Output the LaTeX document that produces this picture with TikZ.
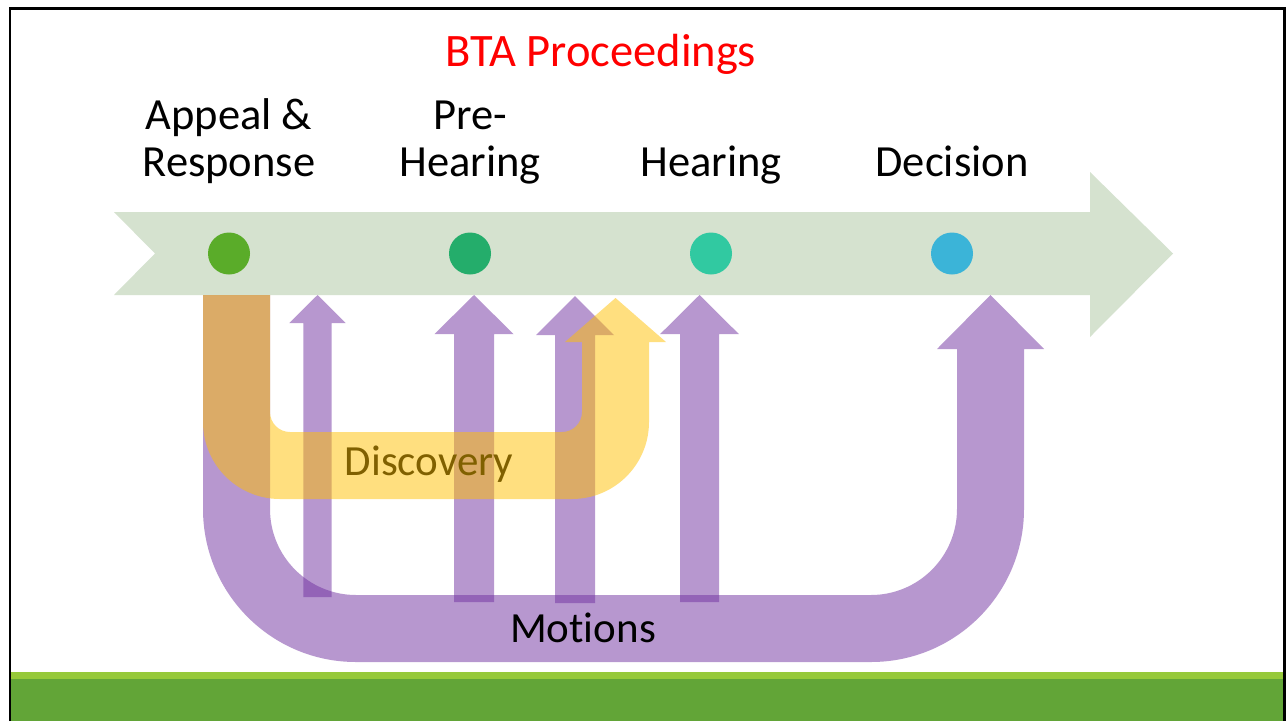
\documentclass[tikz,border=0pt]{standalone}
\usepackage{fontspec}
\setmainfont{Carlito}[Ligatures=NoCommon]
\definecolor{bandgreen}{HTML}{D5E2CF}
\definecolor{dotA}{HTML}{5AAC29}
\definecolor{dotB}{HTML}{24AD6B}
\definecolor{dotC}{HTML}{31C9A1}
\definecolor{dotD}{HTML}{3BB4D8}
\definecolor{motionpurple}{HTML}{7030A0}
\definecolor{discyellow}{HTML}{FFC000}
\definecolor{barlight}{HTML}{96C93A}
\definecolor{bardark}{HTML}{62A537}
% straight up-arrow: centre x, half shaft, half head, tip y, head base y, bottom y
\newcommand\motionarrow[6]{%
  \fill[motion] ({#1-#2},#6) -- ({#1-#2},#5) -- ({#1-#3},#5) -- (#1,#4)
    -- ({#1+#3},#5) -- ({#1+#2},#5) -- ({#1+#2},#6) -- cycle;}
\begin{document}
\begin{tikzpicture}[x=1pt,y=-1pt,
  lbl/.style={font=\fontsize{43}{47}\selectfont, inner sep=0pt, anchor=base, align=center},
  stage/.style={lbl, font=\fontsize{44.5}{47}\selectfont},
  motion/.style={fill=motionpurple, fill opacity=0.5},
  disc/.style={fill=discyellow, fill opacity=0.5},
  dot/.style={circle, minimum size=42pt, inner sep=0pt}]
\useasboundingbox (0,0) rectangle (1288,721);
\fill[white] (0,0) rectangle (1288,721);

% footer bars
\fill[barlight] (10,672) rectangle (1285,679);
\fill[bardark] (10,679) rectangle (1285,721);

% frame
\draw[line width=2.2pt, black] (10,721) -- (10,8.5) -- (1284.5,8.5) -- (1284.5,721);

% title
\node[lbl, font=\fontsize{46.5}{50}\selectfont, text=red] (title) at (601,66) {BTA Proceedings};

% timeline band
\fill[bandgreen] (114,212) -- (1090,212) -- (1090,172) -- (1173,253.5)
  -- (1090,337) -- (1090,295) -- (114,295) -- (155,253.5) -- cycle;

% stage markers
\node[dot, fill=dotA] (d1) at (229,253.5) {};
\node[dot, fill=dotB] (d2) at (470,253.5) {};
\node[dot, fill=dotC] (d3) at (711,253.5) {};
\node[dot, fill=dotD] (d4) at (952,253.5) {};

% stage labels (base anchor sits on the last line)
\node[stage] (s1) at (229,176) {Appeal \&\\Response};
\node[stage] (s2) at (470,176) {Pre-\\Hearing};
\node[stage] (s3) at (711,176) {Hearing};
\node[stage] (s4) at (952,176) {Decision};

% motions U-turn arrow
\fill[motion] (203,295) -- (203,509) arc[start angle=180, end angle=90, radius=153]
  -- (871,662) arc[start angle=90, end angle=0, radius=153]
  -- (1024,349) -- (1044,349) -- (990.5,295) -- (937,349) -- (957,349)
  -- (957,509) arc[start angle=0, end angle=90, radius=86]
  -- (356,595) arc[start angle=90, end angle=180, radius=86]
  -- (270,295) -- cycle;

% motions filed along the way
\motionarrow{317.5}{14.2}{28.2}{295}{323}{597}
\motionarrow{474}{20}{39.5}{295}{334}{602}
\motionarrow{575}{20}{39}{296}{335}{603}
\motionarrow{699.5}{19.5}{39.3}{295}{334}{602}

% discovery label, toned by the band drawn over it
\node[lbl] (disc) at (429,475) {Discovery};

% discovery U-turn arrow
\fill[disc] (203,295) -- (203,422) arc[start angle=180, end angle=90, radius=77]
  -- (572,499) arc[start angle=90, end angle=0, radius=77]
  -- (649,342) -- (666,342) -- (615.5,298) -- (565,342) -- (582,342)
  -- (582,412) arc[start angle=0, end angle=90, radius=20]
  -- (290,432) arc[start angle=90, end angle=180, radius=20]
  -- (270,295) -- cycle;

\node[lbl] (motions) at (583,642) {Motions};
\end{tikzpicture}
\end{document}
